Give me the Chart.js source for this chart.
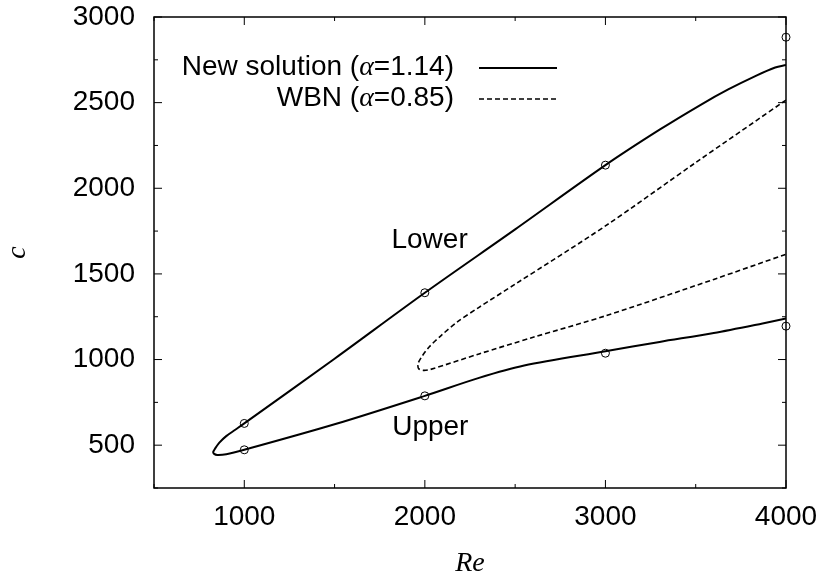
<!DOCTYPE html>
<html>
<head>
<meta charset="utf-8">
<script src="https://cdn.jsdelivr.net/npm/chart.js@4"></script>
<style>
  html, body { margin: 0; padding: 0; background: #fff; }
</style>
</head>
<body>
<canvas id="chart" width="826" height="579"></canvas>
<script>
// ===== Data =====
// New solution (alpha=1.14): lower-mode branch, round the nose, then upper-mode branch
const newRe = [4000, 3940, 3830, 3680, 3530, 3300, 3000, 2500, 2000, 1500, 1000, 950, 900, 862, 838, 828, 833, 850, 900, 1000, 1500, 2000, 2300, 2550, 3000, 3300, 3600, 3870, 4000];
const newC  = [2720, 2705, 2655, 2577, 2489, 2342, 2135, 1760, 1390, 1005,  627, 590, 553, 515, 480, 460, 449, 443, 447,  473,  622,  788,  893,  965, 1048, 1103, 1155, 1211, 1240];

// WBN (alpha=0.85)
const wbnRe = [4000, 3500, 3000, 2500, 2300, 2180, 2090, 2025, 1985, 1963, 1965, 1990, 2030, 2300, 2600, 3000, 3600, 4000];
const wbnC  = [2515, 2150, 1780, 1440, 1305, 1220, 1140, 1075, 1020,  978,  948,  937,  942, 1033, 1130, 1255, 1468, 1615];

// open circles (computed points)
const dotRe = [1000, 1000, 2000, 2000, 3000, 3000, 4000, 4000];
const dotC  = [ 627,  473, 1390,  788, 2135, 1037, 2882, 1195];

// axes
const xTicks = [1000, 2000, 3000, 4000];
const xMinor = [500, 1500, 2500, 3500];
const yTicks = [500, 1000, 1500, 2000, 2500, 3000];
const yMinor = [250, 750, 1250, 1750, 2250, 2750];

const SANS = '"Liberation Sans", Arial, Helvetica, sans-serif';
const SERIF = '"Liberation Serif", "Times New Roman", serif';

const pts = (xs, ys) => xs.map((v, i) => ({ x: v, y: ys[i] }));

// ===== Frame, inward ticks, key and branch labels =====
const decor = {
  id: 'decor',
  afterDraw(chart) {
    const { ctx, chartArea: a, scales: { x, y } } = chart;
    ctx.save();
    ctx.strokeStyle = '#000';
    ctx.fillStyle = '#000';
    ctx.lineWidth = 1;
    const seg = (x0, y0, x1, y1) => { ctx.beginPath(); ctx.moveTo(x0, y0); ctx.lineTo(x1, y1); ctx.stroke(); };

    xTicks.forEach(v => { const p = x.getPixelForValue(v); seg(p, a.bottom, p, a.bottom - 8); seg(p, a.top, p, a.top + 8); });
    xMinor.forEach(v => { const p = x.getPixelForValue(v); seg(p, a.bottom, p, a.bottom - 4); seg(p, a.top, p, a.top + 4); });
    yTicks.forEach(v => { const p = y.getPixelForValue(v); seg(a.left, p, a.left + 8, p); seg(a.right, p, a.right - 8, p); });
    yMinor.forEach(v => { const p = y.getPixelForValue(v); seg(a.left, p, a.left + 4, p); seg(a.right, p, a.right - 4, p); });

    ctx.lineWidth = 1.5;
    ctx.strokeRect(a.left, a.top, a.right - a.left, a.bottom - a.top);

    // key, gnuplot style: right aligned text then line sample
    const keyRow = (pre, post, baseY, dash) => {
      ctx.font = '28px ' + SANS;
      const w1 = ctx.measureText(pre).width, w3 = ctx.measureText(post).width;
      ctx.font = 'italic 28px ' + SERIF;
      const w2 = ctx.measureText('\u03b1').width;
      let tx = a.left + 300 - (w1 + w2 + w3);
      ctx.textBaseline = 'alphabetic';
      ctx.textAlign = 'left';
      ctx.font = '28px ' + SANS; ctx.fillText(pre, tx, baseY); tx += w1;
      ctx.font = 'italic 28px ' + SERIF; ctx.fillText('\u03b1', tx, baseY); tx += w2;
      ctx.font = '28px ' + SANS; ctx.fillText(post, tx, baseY);
      ctx.lineWidth = dash ? 1.6 : 2;
      ctx.setLineDash(dash ? [5, 3] : []);
      seg(a.left + 325, baseY - 7, a.left + 403, baseY - 7);
      ctx.setLineDash([]);
    };
    keyRow('New solution (', '=1.14)', a.top + 58, false);
    keyRow('WBN (', '=0.85)', a.top + 89, true);

    ctx.font = '28px ' + SANS;
    ctx.textAlign = 'left';
    ctx.fillText('Lower', x.getPixelForValue(1815), y.getPixelForValue(1652));
    ctx.fillText('Upper', x.getPixelForValue(1819), y.getPixelForValue(557));
    ctx.restore();
  }
};

new Chart(document.getElementById('chart'), {
  type: 'scatter',
  data: {
    datasets: [
      { label: 'New solution', data: pts(newRe, newC), showLine: true, borderColor: '#000',
        borderWidth: 2, pointRadius: 0, tension: 0.3, fill: false },
      { label: 'WBN', data: pts(wbnRe, wbnC), showLine: true, borderColor: '#000',
        borderWidth: 1.6, borderDash: [5, 3], pointRadius: 0, tension: 0.3, fill: false },
      { label: 'points', data: pts(dotRe, dotC), showLine: false, pointRadius: 4,
        borderColor: '#000', backgroundColor: 'rgba(0,0,0,0)', pointBorderWidth: 1, clip: false }
    ]
  },
  options: {
    responsive: false,
    animation: false,
    layout: { padding: { top: 17, right: 40, left: 0, bottom: 0 } },
    plugins: { legend: { display: false }, tooltip: { enabled: false } },
    scales: {
      x: {
        type: 'linear', min: 500, max: 4000,
        afterBuildTicks: s => { s.ticks = xTicks.map(v => ({ value: v })); },
        afterFit: s => { s.height = 91; s.paddingLeft = 0; s.paddingRight = 0; },
        grid: { display: false, drawTicks: false },
        border: { display: false },
        ticks: { color: '#000', padding: 12, font: { family: SANS, size: 28 }, callback: v => String(v) },
        title: { display: true, text: 'Re', color: '#000', padding: { top: 0, bottom: 1 },
                 font: { family: SERIF, size: 28, style: 'italic', lineHeight: 1 } }
      },
      y: {
        type: 'linear', min: 250, max: 3000,
        afterBuildTicks: s => { s.ticks = yTicks.map(v => ({ value: v })); },
        afterFit: s => { s.width = 154; s.paddingTop = 0; s.paddingBottom = 0; },
        grid: { display: false, drawTicks: false },
        border: { display: false },
        ticks: { color: '#000', padding: 19, font: { family: SANS, size: 28 }, callback: v => String(v) },
        title: { display: true, text: 'c', color: '#000', padding: { top: 4, bottom: 0 },
                 font: { family: SERIF, size: 28, style: 'italic', lineHeight: 1 } }
      }
    }
  },
  plugins: [decor]
});
</script>
</body>
</html>
